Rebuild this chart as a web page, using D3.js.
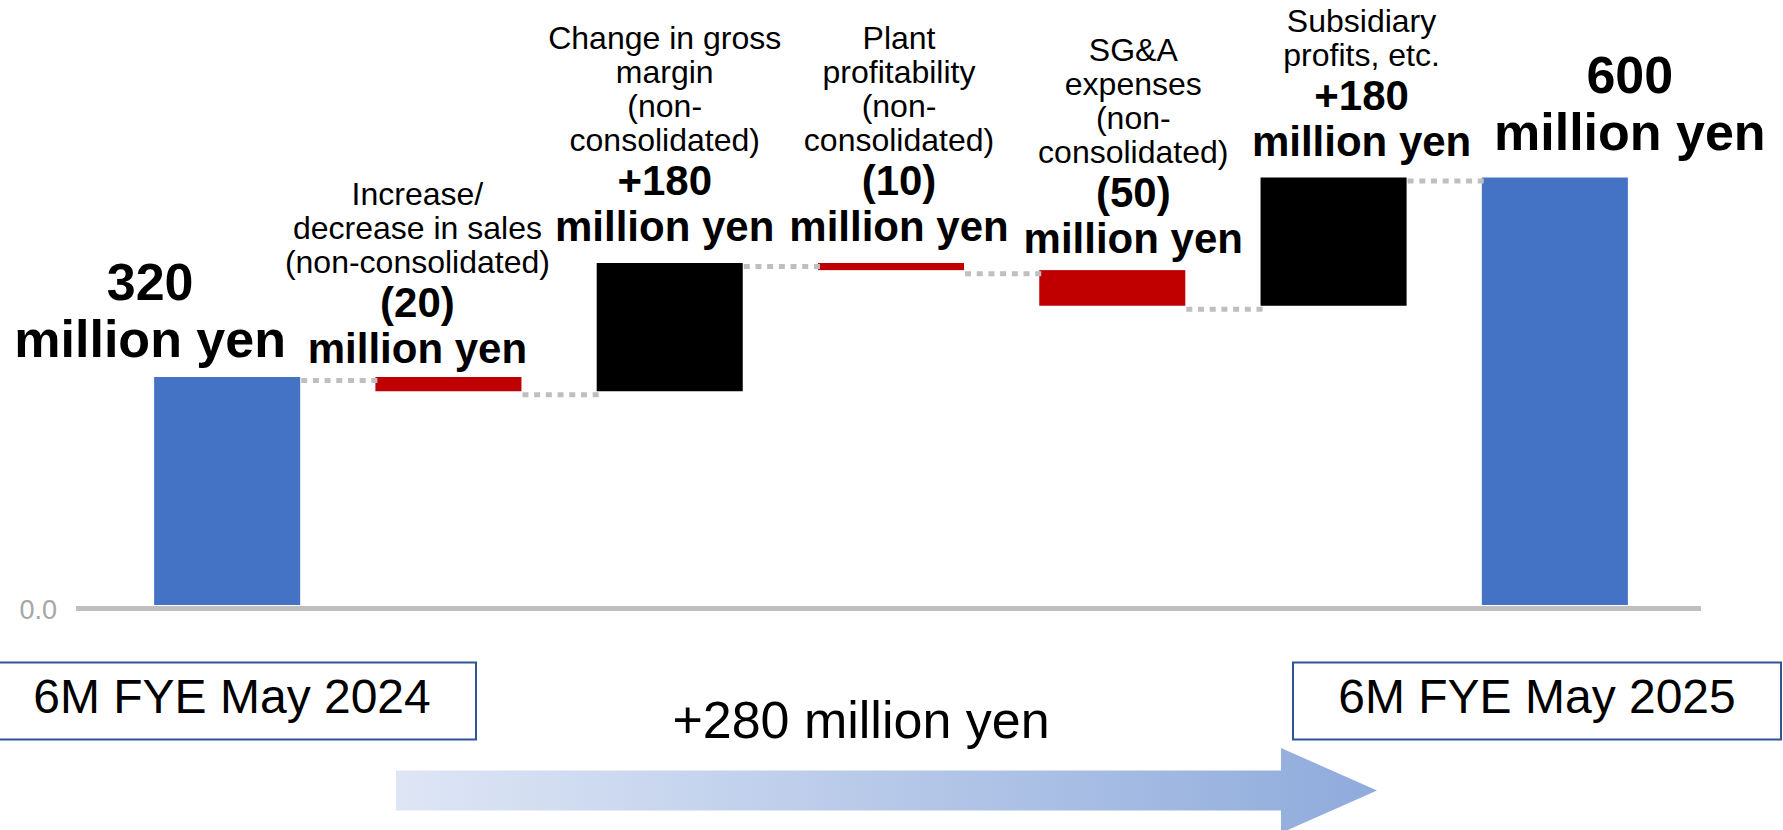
<!DOCTYPE html>
<html lang="en">
<head>
  <meta charset="utf-8">
  <title>Operating profit bridge</title>
  <script type="text/javascript" src="https://cdn.jsdelivr.net/npm/d3@7"></script>
  <style>
    body { margin: 0; background: #fff; }
    svg { display: block; font-family: "Liberation Sans", Arial, sans-serif; }
  </style>
</head>
<body>
  <div id="chart"></div>
  <script>
    // values in million yen
    let kinds = ["total", "delta", "delta", "delta", "delta", "delta", "total"];
    let values = [320, -20, 180, -10, -50, 180, 600];
    let amountLabels = ["320", "(20)", "+180", "(10)", "(50)", "+180", "600"];
    let unitLabel = "million yen";
    let categoryLines = [
      [],
      ["Increase/", "decrease in sales", "(non-consolidated)"],
      ["Change in gross", "margin", "(non-", "consolidated)"],
      ["Plant", "profitability", "(non-", "consolidated)"],
      ["SG&A", "expenses", "(non-", "consolidated)"],
      ["Subsidiary", "profits, etc."],
      []
    ];
    let periodLabels = ["6M FYE May 2024", "6M FYE May 2025"];
    let changeLabel = "+280 million yen";
    let yTicks = [0];

    let w = 1783;
    let h = 830;

    // build waterfall steps
    let running = 0;
    let steps = values.map(function(v, i) {
      let s;
      if (kinds[i] === "total") {
        s = { start: 0, end: v };
        running = v;
      } else {
        s = { start: running, end: running + v };
        running += v;
      }
      s.i = i;
      s.kind = kinds[i];
      s.value = v;
      s.level = s.end;
      return s;
    });

    let x = d3.scaleBand()
      .domain(d3.range(values.length))
      .range([80, 1702])
      .paddingInner(0.34)
      .paddingOuter(0.335);

    let y = d3.scaleLinear()
      .domain([0, 600])
      .range([605, 177.5]);

    let color = function(d) {
      if (d.kind === "total") return "#4472c4";
      return d.value >= 0 ? "#000000" : "#c00000";
    };

    let svg = d3.select("#chart")
      .append("svg")
      .attr("width", w)
      .attr("height", h);

    let defs = svg.append("defs");
    let grad = defs.append("linearGradient")
      .attr("id", "arrowGrad")
      .attr("x1", "0%").attr("x2", "100%")
      .attr("y1", "0%").attr("y2", "0%");
    grad.append("stop").attr("offset", "0%").attr("stop-color", "#dee6f5");
    grad.append("stop").attr("offset", "100%").attr("stop-color", "#8fabdc");

    // baseline
    svg.append("line")
      .attr("x1", 76)
      .attr("x2", 1701)
      .attr("y1", 608.5)
      .attr("y2", 608.5)
      .attr("stroke", "#bfbfbf")
      .attr("stroke-width", 5);

    // "0.0" tick
    let yAxis = d3.axisLeft(y)
      .tickValues(yTicks)
      .tickSize(0)
      .tickPadding(5)
      .tickFormat(d3.format(".1f"));

    let gy = svg.append("g")
      .attr("transform", "translate(62,5)")
      .call(yAxis);
    gy.select(".domain").remove();
    gy.selectAll("text")
      .attr("font-family", "Liberation Sans, Arial, sans-serif")
      .attr("font-size", 27)
      .attr("fill", "#a6a6a6");

    // bars
    svg.selectAll("rect.bar")
      .data(steps)
      .enter()
      .append("rect")
      .attr("class", "bar")
      .attr("x", function(d) { return x(d.i); })
      .attr("width", x.bandwidth())
      .attr("y", function(d) { return y(Math.max(d.start, d.end)); })
      .attr("height", function(d) { return Math.abs(y(d.start) - y(d.end)); })
      .attr("fill", color);

    // dotted connectors
    let links = steps.slice(0, -1);
    svg.selectAll("line.link")
      .data(links)
      .enter()
      .append("line")
      .attr("class", "link")
      .attr("x1", function(d) { return x(d.i) + x.bandwidth() + 1; })
      .attr("x2", function(d) { return x(d.i + 1) + 3; })
      .attr("y1", function(d) { return y(d.level) + 3.5; })
      .attr("y2", function(d) { return y(d.level) + 3.5; })
      .attr("stroke", "#bfbfbf")
      .attr("stroke-width", 5)
      .attr("stroke-dasharray", "6 5.7");

    // labels: horizontal shift and gap above the bar
    let labelDx = [-77, -31, -5, 8, 21, 28, 75];
    let labelGap = [20, 14, 22, 22, 17, 22, 27.5];

    steps.forEach(function(d, i) {
      let cx = x(d.i) + x.bandwidth() / 2 + labelDx[i];
      let top = y(Math.max(d.start, d.end));
      let base = top - labelGap[i];
      let big = d.kind === "total";
      let boldSize = big ? 52 : 42;
      let boldStep = big ? 57.5 : 46;

      let g = svg.append("g").attr("text-anchor", "middle").attr("fill", "#000");

      g.append("text")
        .attr("x", cx)
        .attr("y", base)
        .attr("font-size", boldSize)
        .attr("font-weight", "bold")
        .text(unitLabel);

      g.append("text")
        .attr("x", cx)
        .attr("y", base - boldStep)
        .attr("font-size", boldSize)
        .attr("font-weight", "bold")
        .text(amountLabels[i]);

      let lines = categoryLines[i];
      let lastBase = base - boldStep - 44;
      lines.forEach(function(t, k) {
        g.append("text")
          .attr("x", cx)
          .attr("y", lastBase - (lines.length - 1 - k) * 34)
          .attr("font-size", 32)
          .text(t);
      });
    });

    // period boxes
    let boxes = [
      { x: -12, label: periodLabels[0] },
      { x: 1293, label: periodLabels[1] }
    ];
    let bg = svg.selectAll("g.period")
      .data(boxes)
      .enter()
      .append("g")
      .attr("class", "period");
    bg.append("rect")
      .attr("x", function(d) { return d.x; })
      .attr("y", 662.5)
      .attr("width", 488)
      .attr("height", 77)
      .attr("fill", "#fff")
      .attr("stroke", "#2f5597")
      .attr("stroke-width", 2);
    bg.append("text")
      .attr("x", function(d) { return d.x + 244; })
      .attr("y", 713)
      .attr("text-anchor", "middle")
      .attr("font-size", 48)
      .text(function(d) { return d.label; });

    // change arrow
    svg.append("path")
      .attr("d", "M396,770.5 L1281,770.5 L1281,748 L1377,790.5 L1281,833 L1281,810.5 L396,810.5 Z")
      .attr("fill", "url(#arrowGrad)");

    svg.append("text")
      .attr("x", 861)
      .attr("y", 738)
      .attr("text-anchor", "middle")
      .attr("font-size", 52)
      .text(changeLabel);
  </script>
</body>
</html>
